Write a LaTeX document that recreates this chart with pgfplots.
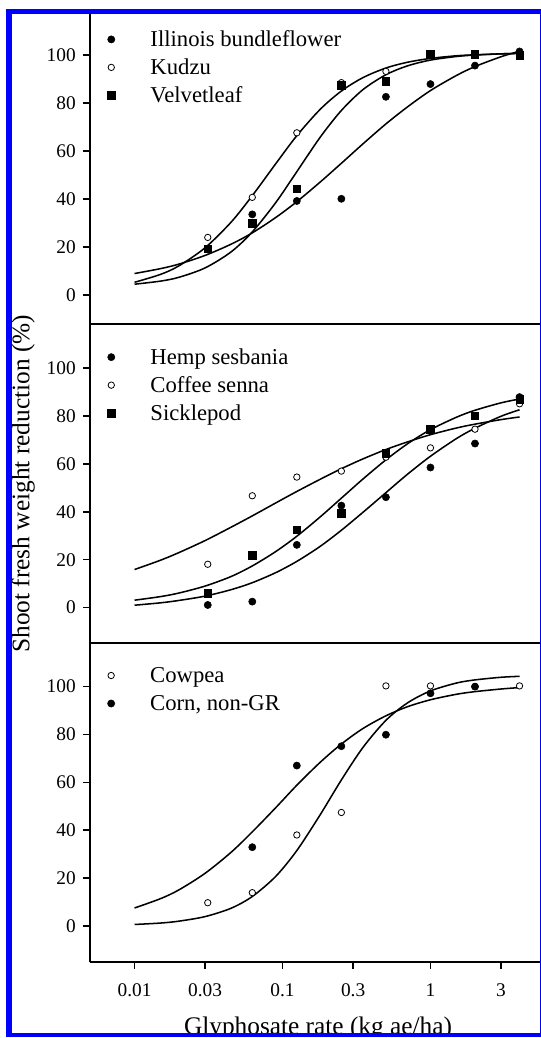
\documentclass[border=0pt]{standalone}
\usepackage{fontspec}
\setmainfont{Liberation Serif}
\usepackage{pgfplots}
\pgfplotsset{compat=1.18}
\definecolor{frameblue}{RGB}{0,0,255}
\pgfplotsset{
  panel/.style={
    scale only axis, width=337.5pt, anchor=south west,
    xmin=0.005, xmax=5.5,
    axis x line=bottom, axis y line=left,
    axis line style={-, line width=1.3pt},
    tick align=outside, major tick length=5pt,
    tick style={line width=1.1pt, black},
    xminorticks=false, yminorticks=false,
    ytick={0,20,40,60,80,100},
    tick label style={font=\fontsize{14.5}{16}\selectfont},
    /pgf/number format/assume math mode=true,
    yticklabel style={xshift=-2.2pt},
    xticklabel style={yshift=-7.2pt},
    legend cell align=left,
    legend style={draw=none, fill=none, inner sep=0pt, outer sep=0pt, anchor=north west,
      font=\fontsize{17}{20}\selectfont,
      nodes={inner sep=0pt, text height=12pt, text depth=4pt},
      row sep=5pt, column sep=26.6pt},
  },
  fc/.style={only marks, mark=*, mark size=2.7pt, mark options={fill=black, draw=black, line width=0.4pt},
    legend image code/.code={\draw[##1] plot coordinates {(0pt,1.3pt)};}},
  oc/.style={only marks, mark=*, mark size=2.4pt, mark options={fill=white, draw=black, line width=0.6pt},
    legend image code/.code={\draw[##1] plot coordinates {(0pt,1.3pt)};}},
  sq/.style={only marks, mark=square*, mark size=2.8pt, mark options={fill=black, draw=black, line width=0.4pt},
    legend image code/.code={\draw[##1] plot coordinates {(0pt,1.3pt)};}},
  fit/.style={smooth, line width=1.15pt, black, no markers, forget plot},
}
\begin{document}
\begin{tikzpicture}
\useasboundingbox (0pt,0pt) rectangle (405.75pt,778.5pt);
% ---------------- Panel 1 ----------------
\begin{semilogxaxis}[panel, at={(67.5pt,535.275pt)}, height=232.7pt,
  ymin=-12.2, ymax=117.1, xtick=\empty,
  legend style={at={(axis description cs:0.039,0.947)}}]
\addplot[fit] coordinates {(0.01,8.95)(0.015,11.0)(0.02,12.9)(0.03,16.5)(0.045,21.2)(0.0625,25.9)(0.09,32.3)(0.125,38.9)(0.18,47.1)(0.25,54.9)(0.35,63.0)(0.5,71.3)(0.7,78.4)(1,85.2)(1.5,91.5)(2,95.2)(3,99.3)(4,101.6)};
\addplot[fit] coordinates {(0.01,5.3)(0.015,8.6)(0.02,12.2)(0.03,19.7)(0.045,30.4)(0.0625,41.4)(0.09,54.7)(0.125,66.4)(0.18,77.4)(0.25,85.0)(0.35,90.6)(0.5,94.6)(0.7,97.0)(1,98.6)(1.5,99.7)(2,100.1)(3,100.5)(4,100.7)};
\addplot[fit] coordinates {(0.01,4.5)(0.015,5.8)(0.02,7.4)(0.03,11.3)(0.045,18.0)(0.0625,26.3)(0.09,38.5)(0.125,51.4)(0.18,65.8)(0.25,76.9)(0.35,85.6)(0.5,91.8)(0.7,95.5)(1,97.9)(1.5,99.4)(2,100.0)(3,100.5)(4,100.7)};
\addplot[fc] coordinates {(0.03125,19.0)(0.0625,33.6)(0.125,39.2)(0.25,40.1)(0.5,82.6)(1,87.9)(2,95.6)(4,101.5)};
\addlegendentry{Illinois bundleflower}
\addplot[oc] coordinates {(0.03125,24.0)(0.0625,40.7)(0.125,67.6)(0.25,88.5)(0.5,93.2)(1,100.5)(2,100.5)(4,100.0)};
\addlegendentry{Kudzu}
\addplot[sq] coordinates {(0.03125,19.2)(0.0625,29.9)(0.125,44.3)(0.25,87.5)(0.5,89.0)(1,100.3)(2,100.3)(4,100.0)};
\addlegendentry{Velvetleaf}
\end{semilogxaxis}
% ---------------- Panel 2 ----------------
\begin{semilogxaxis}[panel, at={(67.5pt,296.025pt)}, height=239.25pt,
  ymin=-14.9, ymax=118.3, xtick=\empty,
  ylabel={Shoot fresh weight reduction (\%)},
  ylabel style={at={(axis description cs:-0.1349,0.5)}, anchor=base, font=\fontsize{19}{22}\selectfont},
  legend style={at={(axis description cs:0.039,0.925)}}]
\addplot[fit] coordinates {(0.01,1.0)(0.015,2.0)(0.02,3.0)(0.03,4.8)(0.045,7.5)(0.0625,10.4)(0.09,14.6)(0.125,19.3)(0.18,25.6)(0.25,32.3)(0.35,39.8)(0.5,48.0)(0.7,55.7)(1,63.2)(1.5,70.6)(2,74.9)(3,79.9)(4,82.6)};
\addplot[fit] coordinates {(0.01,15.9)(0.015,19.8)(0.02,23.0)(0.03,28.0)(0.045,33.6)(0.0625,38.3)(0.09,43.7)(0.125,48.5)(0.18,53.6)(0.25,58.0)(0.35,62.1)(0.5,66.0)(0.7,69.2)(1,72.2)(1.5,75.0)(2,76.6)(3,78.5)(4,79.6)};
\addplot[fit] coordinates {(0.01,3.1)(0.015,4.6)(0.02,6.1)(0.03,9.0)(0.045,13.0)(0.0625,17.4)(0.09,23.4)(0.125,29.8)(0.18,37.9)(0.25,45.7)(0.35,53.7)(0.5,61.7)(0.7,68.4)(1,74.3)(1.5,79.5)(2,82.4)(3,85.5)(4,87.1)};
\addplot[fc] coordinates {(0.03125,1.1)(0.0625,2.5)(0.125,26.2)(0.25,42.6)(0.5,46.1)(1,58.5)(2,68.5)(4,87.9)};
\addlegendentry{Hemp sesbania}
\addplot[oc] coordinates {(0.03125,18.1)(0.0625,46.7)(0.125,54.5)(0.25,57.0)(0.5,62.8)(1,66.7)(2,74.5)(4,85.1)};
\addlegendentry{Coffee senna}
\addplot[sq] coordinates {(0.03125,6.0)(0.0625,21.9)(0.125,32.5)(0.25,39.4)(0.5,64.5)(1,74.5)(2,80.2)(4,87.0)};
\addlegendentry{Sicklepod}
\end{semilogxaxis}
% ---------------- Panel 3 ----------------
\begin{semilogxaxis}[panel, at={(67.5pt,56.775pt)}, height=239.25pt,
  ymin=-15.2, ymax=118.1,
  xtick={0.01,0.03,0.1,0.3,1,3},
  xticklabels={0.01,0.03,0.1,0.3,1,3},
  xlabel={Glyphosate rate (kg ae/ha)},
  xlabel style={at={(axis description cs:0.5067,-0.2263)}, anchor=base, font=\fontsize{19}{22}\selectfont},
  legend style={at={(axis description cs:0.039,0.927)}}]
\addplot[fit] coordinates {(0.01,0.6)(0.015,1.2)(0.02,2.0)(0.03,3.9)(0.045,7.4)(0.0625,12.3)(0.09,20.7)(0.125,31.5)(0.18,46.5)(0.25,61.0)(0.35,74.6)(0.5,85.9)(0.7,93.2)(1,98.2)(1.5,101.5)(2,102.8)(3,103.9)(4,104.3)};
\addplot[fit] coordinates {(0.01,7.5)(0.015,11.4)(0.02,15.1)(0.03,22.0)(0.045,30.8)(0.0625,39.3)(0.09,49.4)(0.125,58.8)(0.18,68.4)(0.25,76.0)(0.35,82.5)(0.5,87.8)(0.7,91.6)(1,94.5)(1.5,96.8)(2,97.9)(3,99.0)(4,99.6)};
\addplot[oc] coordinates {(0.03125,9.7)(0.0625,13.9)(0.125,38.0)(0.25,47.4)(0.5,100.3)(1,100.3)(2,100.0)(4,100.3)};
\addlegendentry{Cowpea}
\addplot[fc] coordinates {(0.0625,32.9)(0.125,67.0)(0.25,75.1)(0.5,79.9)(1,97.2)(2,100.0)};
\addlegendentry{Corn, non-GR}
\end{semilogxaxis}
% ---------------- frame ----------------
\fill[white] (0pt,0pt) rectangle (4.5pt,778.5pt);
\fill[white] (0pt,0pt) rectangle (405.75pt,0.75pt);
\fill[white] (0pt,771.75pt) rectangle (405.75pt,778.5pt);
\fill[frameblue] (4.5pt,0.75pt) rectangle (9pt,771.75pt);
\fill[frameblue] (4.5pt,768pt) rectangle (405.75pt,771.75pt);
\fill[frameblue] (4.5pt,0.75pt) rectangle (405.75pt,3.75pt);
\fill[frameblue] (405pt,0.75pt) rectangle (405.75pt,771.75pt);
\end{tikzpicture}
\end{document}
